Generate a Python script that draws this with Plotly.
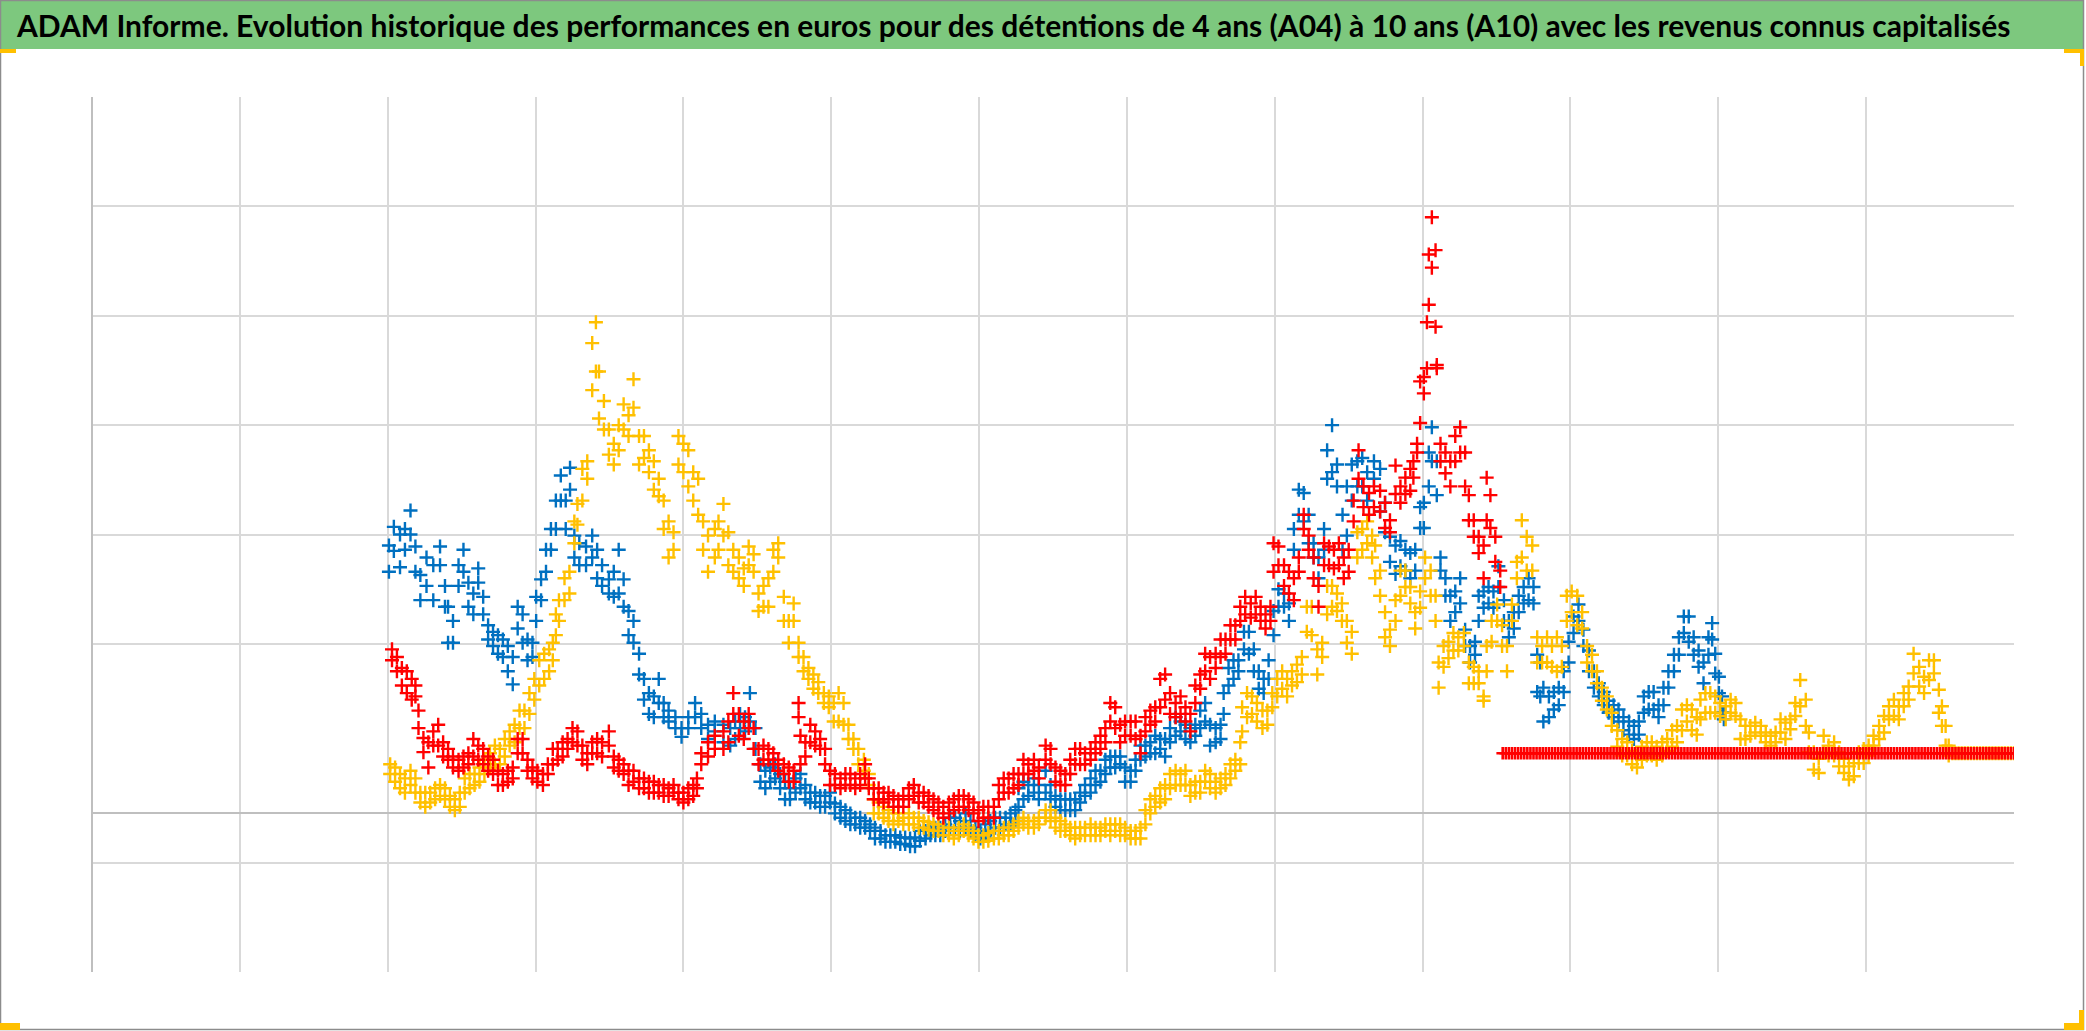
import plotly.graph_objects as go

# ---------------- data (x = month index on the time axis, y = performance in %) ----------------
# each observation: (month, low edge of the point cloud, high edge of the point cloud)
blue_obs = [
    (48.2, 221, 245), (49.0, 240, 262), (50.0, 225, 255), (50.8, 241, 260), (51.7, 255, 277),
    (52.5, 221, 244), (53.3, 195, 218), (54.3, 208, 234), (55.4, 195, 227), (56.5, 227, 244),
    (57.3, 189, 208), (57.8, 156, 189), (58.6, 156, 176), (59.5, 208, 227), (60.3, 221, 241),
    (61.1, 189, 211), (61.9, 182, 201), (62.7, 211, 224), (63.5, 182, 198), (64.3, 159, 172),
    (65.1, 153, 166), (65.9, 146, 163), (66.7, 143, 159), (67.5, 130, 153), (68.3, 118, 143),
    (69.1, 169, 189), (69.9, 156, 182), (70.7, 140, 159), (71.5, 143, 156), (72.1, 176, 198),
    (72.9, 195, 214), (73.7, 221, 241), (74.5, 241, 260), (75.3, 260, 286), (76.1, 286, 309),
    (76.9, 260, 286), (77.6, 296, 316), (78.3, 234, 254), (79.1, 227, 247), (80.2, 227, 244),
    (81.2, 234, 254), (82.0, 215, 241), (82.8, 208, 227), (83.9, 201, 214), (84.7, 198, 221),
    (85.5, 201, 241), (86.3, 189, 214), (87.1, 163, 185), (87.9, 156, 176), (88.8, 127, 146),
    (89.6, 104, 123), (90.4, 91, 110), (91.2, 88, 107), (92.0, 101, 123), (92.8, 88, 101),
    (93.6, 84, 94), (94.7, 78, 88), (95.7, 70, 78), (96.8, 78, 88), (97.9, 88, 101),
    (98.9, 78, 91), (100.0, 68, 81), (101.1, 75, 84), (102.5, 65, 81), (103.6, 62, 78),
    (104.4, 68, 84), (105.2, 78, 91), (106.0, 75, 88), (106.8, 84, 110), (107.7, 59, 78),
    (108.5, 29, 45), (109.3, 23, 39), (110.1, 29, 42), (110.9, 32, 45), (111.7, 23, 36),
    (112.5, 13, 29), (113.3, 13, 23), (114.2, 19, 32), (115.0, 23, 36), (115.8, 13, 26),
    (116.6, 10, 19), (117.4, 10, 19), (118.2, 6, 16), (119.0, 6, 16), (119.8, 10, 19),
    (120.6, 0, 9), (121.5, -4, 6), (122.3, -7, 3), (123.1, -10, 0), (123.9, -10, -4),
    (124.7, -13, -4), (125.5, -13, -7), (126.3, -16, -10), (127.1, -23, -13), (128.0, -23, -16),
    (128.8, -26, -20), (129.6, -26, -20), (130.4, -26, -20), (131.2, -28, -22), (132.0, -28, -22),
    (132.8, -30, -23), (133.6, -30, -22), (134.4, -25, -16), (135.3, -23, -16), (136.1, -20, -13),
    (136.9, -20, -13), (137.7, -20, -13), (138.5, -16, -10), (139.3, -13, -4), (140.1, -13, -4),
    (140.9, -16, -7), (141.8, -13, 0), (142.6, -16, -7), (143.4, -20, -13), (144.2, -23, -16),
    (145.0, -20, -10), (145.8, -16, -7), (146.6, -13, -4), (147.4, -13, -4), (148.3, -10, -4),
    (149.1, -10, 0), (149.9, -7, 3), (150.4, 6, 23), (151.2, 13, 29), (152.0, 16, 26),
    (152.9, 19, 32), (153.7, 13, 26), (154.8, 19, 39), (155.6, 13, 26), (156.4, 6, 16),
    (157.2, 3, 13), (158.0, 3, 13), (158.8, 3, 13), (159.6, 3, 13), (160.4, 10, 19),
    (161.2, 16, 26), (162.1, 19, 32), (162.9, 26, 39), (163.7, 29, 39), (164.5, 36, 49),
    (165.3, 42, 52), (166.1, 42, 52), (166.9, 45, 52), (167.7, 29, 42), (168.6, 29, 39),
    (169.4, 39, 49), (170.2, 49, 62), (171.0, 52, 62), (171.8, 55, 65), (172.6, 55, 71),
    (173.4, 59, 68), (174.2, 52, 68), (175.0, 65, 78), (175.9, 71, 88), (176.7, 75, 84),
    (177.5, 68, 81), (178.3, 65, 78), (179.1, 71, 81), (179.9, 78, 94), (180.7, 84, 101),
    (181.5, 62, 81), (182.4, 65, 78), (183.2, 68, 81), (183.7, 91, 110), (184.5, 117, 133),
    (185.3, 123, 140), (186.1, 130, 140), (187.0, 150, 166), (187.8, 146, 166), (188.6, 130, 150),
    (189.4, 114, 130), (190.2, 110, 123), (191.0, 123, 140), (191.8, 163, 185), (192.6, 189, 205),
    (193.5, 189, 201), (194.3, 176, 192), (195.1, 241, 260), (195.9, 273, 296), (196.7, 267, 293),
    (197.5, 247, 273), (198.3, 234, 247), (199.1, 215, 234), (200.0, 241, 260), (200.5, 306, 332),
    (201.3, 312, 355), (202.1, 299, 319), (203.0, 241, 273), (203.7, 254, 299), (204.5, 286, 319),
    (205.4, 299, 322), (206.2, 299, 325), (207.0, 286, 312), (208.1, 306, 322), (209.1, 276, 315),
    (209.9, 257, 284), (210.7, 230, 253), (211.6, 219, 245), (212.4, 226, 249), (213.2, 222, 241),
    (214.0, 215, 238), (214.8, 222, 241), (215.6, 261, 280), (216.2, 261, 284), (217.0, 299, 330),
    (217.5, 322, 353), (218.3, 291, 322), (218.9, 222, 234), (219.7, 199, 215), (220.5, 176, 199),
    (221.3, 184, 203), (222.1, 192, 215), (222.9, 153, 168), (223.7, 138, 153), (224.5, 145, 157),
    (225.1, 176, 199), (225.9, 188, 203), (226.7, 192, 207), (227.5, 188, 203), (228.3, 207, 226),
    (229.2, 176, 195), (230.0, 161, 176), (230.8, 169, 184), (231.6, 184, 199), (232.4, 192, 207),
    (233.2, 195, 215), (234.0, 192, 207), (234.6, 111, 145), (235.1, 107, 138), (235.6, 84, 115),
    (236.5, 88, 107), (237.3, 95, 111), (238.1, 99, 115), (238.9, 111, 130), (239.7, 138, 157),
    (240.5, 165, 180), (241.3, 176, 191), (242.1, 153, 168), (243.0, 130, 149), (243.8, 115, 130),
    (244.6, 107, 119), (245.4, 99, 111), (246.2, 92, 103), (247.0, 88, 99), (247.8, 84, 95),
    (248.6, 76, 88), (249.5, 72, 84), (250.3, 68, 80), (251.1, 72, 84), (251.9, 92, 107),
    (252.7, 95, 111), (253.5, 95, 111), (254.3, 88, 99), (255.1, 99, 115), (255.9, 115, 130),
    (256.8, 130, 145), (257.6, 145, 161), (258.4, 165, 180), (259.2, 157, 180), (260.0, 145, 161),
    (260.8, 134, 149), (261.6, 119, 138), (262.4, 145, 161), (263.0, 159, 174), (263.5, 128, 146),
    (264.1, 110, 125), (264.6, 92, 107), (264.9, 86, 92),
]

red_obs = [
    (48.7, 140, 150), (49.5, 130, 143), (50.3, 117, 133), (51.1, 110, 130), (51.9, 104, 123),
    (52.5, 107, 117), (53.0, 78, 94), (53.8, 56, 69), (54.6, 42, 65), (55.4, 62, 75),
    (56.2, 62, 81), (57.0, 52, 65), (57.8, 49, 59), (58.6, 42, 52), (59.5, 39, 49),
    (60.3, 42, 52), (61.1, 45, 55), (61.9, 52, 68), (62.7, 49, 62), (63.5, 45, 59),
    (64.3, 39, 52), (65.1, 36, 49), (65.9, 26, 39), (66.7, 26, 36), (67.5, 29, 39),
    (68.3, 32, 42), (69.1, 55, 68), (69.9, 55, 68), (70.7, 39, 49), (71.5, 32, 42),
    (72.3, 29, 39), (73.2, 26, 36), (74.0, 36, 45), (74.8, 45, 59), (75.6, 49, 59),
    (76.4, 52, 65), (77.2, 59, 68), (78.0, 65, 78), (78.8, 62, 75), (79.6, 49, 62),
    (80.4, 45, 55), (81.2, 55, 65), (82.0, 55, 68), (82.8, 52, 65), (83.9, 62, 75),
    (84.7, 42, 52), (85.5, 39, 49), (86.3, 36, 45), (87.1, 26, 39), (87.9, 29, 39),
    (88.8, 23, 32), (89.6, 23, 32), (90.4, 19, 29), (91.2, 19, 29), (92.0, 19, 26),
    (92.8, 16, 26), (93.6, 16, 23), (94.4, 19, 26), (95.2, 13, 19), (96.0, 10, 19),
    (96.8, 13, 23), (97.6, 16, 26), (98.2, 23, 32), (98.9, 45, 55), (100.0, 52, 65),
    (101.1, 59, 71), (102.5, 59, 75), (103.3, 65, 84), (104.1, 91, 110), (105.0, 71, 91),
    (105.8, 68, 84), (106.6, 78, 91), (107.4, 59, 78), (108.2, 45, 59), (109.0, 49, 62),
    (109.8, 49, 59), (110.6, 45, 55), (111.4, 39, 49), (112.3, 36, 45), (113.1, 29, 42),
    (113.9, 29, 39), (114.7, 88, 101), (115.0, 45, 71), (115.8, 52, 65), (116.6, 65, 81),
    (117.4, 62, 75), (118.2, 59, 68), (119.0, 45, 59), (119.8, 26, 39), (120.6, 26, 36),
    (121.5, 23, 32), (122.3, 26, 36), (123.1, 26, 36), (123.9, 23, 32), (124.7, 26, 36),
    (125.5, 32, 45), (126.1, 23, 32), (126.9, 13, 23), (127.7, 13, 23), (128.5, 10, 19),
    (129.3, 13, 19), (130.1, 6, 16), (130.9, 6, 13), (131.7, 6, 16), (132.6, 13, 23),
    (133.4, 16, 26), (134.2, 10, 19), (135.0, 10, 19), (135.8, 6, 16), (136.6, 3, 13),
    (137.4, 0, 10), (138.2, -4, 6), (139.1, 0, 10), (139.9, 3, 13), (140.7, 6, 16),
    (141.5, 6, 16), (142.3, 3, 13), (143.1, 0, 10), (143.9, -7, 3), (144.7, -4, 6),
    (145.5, -4, 6), (146.4, -4, 6), (147.2, 13, 26), (148.0, 19, 32), (148.8, 19, 32),
    (149.6, 23, 36), (150.4, 26, 36), (151.2, 36, 49), (152.0, 36, 45), (152.9, 39, 49),
    (153.7, 32, 42), (154.8, 49, 62), (155.6, 45, 59), (156.4, 29, 42), (157.2, 26, 39),
    (158.0, 26, 36), (158.8, 36, 49), (159.6, 45, 59), (160.4, 45, 59), (161.2, 45, 55),
    (162.1, 49, 59), (162.9, 55, 65), (163.7, 59, 71), (164.5, 65, 78), (165.3, 84, 101),
    (166.1, 78, 97), (166.9, 65, 81), (167.7, 71, 84), (168.6, 71, 84), (169.4, 68, 84),
    (170.2, 55, 71), (171.0, 75, 88), (171.8, 81, 94), (172.6, 84, 97), (173.4, 97, 123),
    (174.2, 104, 127), (175.0, 91, 110), (175.9, 88, 101), (176.7, 91, 107), (177.5, 84, 97),
    (178.3, 75, 91), (179.1, 101, 117), (179.9, 114, 127), (180.7, 130, 146), (181.5, 123, 143),
    (182.4, 133, 146), (183.2, 143, 159), (184.0, 146, 159), (184.8, 159, 172), (185.6, 159, 172),
    (186.4, 176, 189), (187.2, 182, 198), (188.1, 179, 192), (188.9, 182, 198), (189.7, 176, 189),
    (190.5, 169, 182), (191.3, 176, 189), (191.8, 221, 247), (192.6, 227, 244), (193.5, 208, 227),
    (194.3, 201, 221), (195.1, 195, 215), (195.9, 221, 234), (196.7, 260, 273), (197.5, 241, 254),
    (198.3, 215, 234), (199.1, 189, 208), (200.0, 227, 247), (200.8, 227, 244), (201.6, 224, 241),
    (202.4, 227, 247), (203.2, 215, 234), (204.0, 221, 241), (204.8, 267, 286), (205.6, 306, 332),
    (206.4, 280, 299), (207.3, 273, 293), (208.1, 280, 299), (209.1, 276, 295), (209.9, 261, 284),
    (210.7, 257, 268), (211.6, 292, 318), (212.4, 284, 299), (213.2, 292, 307), (214.0, 295, 315),
    (214.5, 307, 322), (215.1, 330, 338), (215.6, 357, 395), (216.2, 384, 399), (216.7, 407, 449),
    (217.0, 465, 511), (217.5, 499, 545), (218.1, 445, 515), (218.3, 407, 410), (218.9, 322, 338),
    (219.7, 311, 330), (220.5, 299, 322), (221.3, 322, 345), (222.1, 330, 353), (222.9, 299, 330),
    (223.5, 268, 291), (224.3, 253, 268), (225.1, 238, 253), (225.9, 215, 245), (226.4, 268, 307),
    (227.0, 261, 291), (227.8, 230, 253), (228.6, 207, 222),
]
# after month 229 the A10 series stays on a flat level
RED_TAIL_START, TAIL_END = 229, 312
RED_TAIL_LEVEL = 55

yellow_obs = [
    (48.4, 36, 45), (49.2, 29, 42), (50.0, 23, 36), (50.8, 19, 32), (51.7, 26, 39),
    (52.5, 19, 32), (53.3, 10, 19), (54.1, 6, 19), (54.9, 10, 19), (55.7, 13, 23),
    (56.5, 16, 26), (57.3, 13, 23), (58.1, 6, 16), (58.9, 3, 13), (59.7, 6, 19),
    (60.5, 19, 32), (61.3, 23, 36), (62.1, 26, 36), (62.9, 29, 42), (63.7, 36, 49),
    (64.6, 42, 55), (65.4, 45, 62), (66.2, 45, 59), (67.0, 52, 68), (67.8, 62, 75),
    (68.6, 65, 81), (69.4, 78, 94), (70.2, 78, 94), (71.0, 91, 110), (71.8, 104, 123),
    (72.6, 117, 140), (73.4, 123, 146), (74.2, 130, 150), (74.8, 140, 156), (75.3, 163, 182),
    (75.8, 176, 195), (76.7, 195, 215), (77.5, 201, 221), (78.3, 247, 267), (78.8, 264, 283),
    (79.6, 286, 315), (80.4, 306, 322), (81.2, 387, 430), (81.8, 404, 449), (82.3, 361, 404),
    (83.1, 351, 377), (83.9, 328, 351), (84.7, 319, 338), (85.5, 332, 355), (86.3, 351, 374),
    (87.1, 345, 364), (87.9, 371, 397), (88.8, 319, 345), (89.6, 325, 345), (90.4, 312, 332),
    (91.2, 296, 322), (92.0, 290, 306), (92.8, 260, 286), (93.6, 234, 267), (94.4, 241, 257),
    (95.2, 319, 345), (96.0, 312, 338), (96.8, 299, 332), (97.6, 286, 312), (98.4, 273, 306),
    (99.2, 241, 267), (100.0, 221, 254), (101.1, 234, 260), (101.7, 241, 267), (102.5, 254, 283),
    (103.3, 227, 257), (104.1, 221, 241), (105.0, 215, 234), (105.8, 208, 224), (106.6, 227, 244),
    (107.4, 221, 237), (108.2, 185, 201), (109.0, 189, 208), (109.8, 189, 215), (110.6, 221, 241),
    (111.4, 234, 247), (112.3, 176, 198), (113.1, 156, 176), (113.9, 176, 192), (114.7, 143, 156),
    (115.5, 130, 143), (116.3, 123, 133), (117.1, 114, 127), (117.9, 110, 120), (118.8, 101, 110),
    (119.6, 97, 107), (120.4, 84, 101), (121.2, 84, 110), (122.0, 81, 101), (122.8, 68, 81),
    (123.6, 59, 68), (124.4, 45, 59), (125.3, 39, 49), (126.1, 26, 36), (126.9, 0, 13),
    (127.7, 0, 10), (128.5, -4, 6), (129.3, -7, 3), (130.1, -10, 0), (130.9, -7, 0),
    (131.7, -10, -4), (132.6, -10, 0), (133.4, -10, -4), (134.2, -13, -4), (135.0, -13, -7),
    (135.8, -15, -8), (136.6, -16, -10), (137.4, -16, -10), (138.2, -20, -13), (139.1, -20, -13),
    (139.9, -23, -16), (140.7, -20, -13), (141.5, -16, -10), (142.3, -20, -13), (143.1, -23, -16),
    (143.9, -26, -20), (144.7, -26, -20), (145.5, -25, -18), (146.4, -23, -16), (147.2, -23, -16),
    (148.0, -20, -13), (148.8, -20, -13), (149.6, -16, -10), (150.4, -13, -7), (151.2, -10, -4),
    (152.0, -13, -7), (152.9, -13, -7), (153.7, -10, -4), (154.8, -4, 3), (155.6, -7, 3),
    (156.4, -13, -4), (157.2, -16, -7), (158.0, -16, -10), (158.8, -20, -13), (159.6, -23, -13),
    (160.4, -20, -13), (161.2, -20, -13), (162.1, -20, -10), (162.9, -20, -13), (163.7, -20, -13),
    (164.5, -16, -10), (165.3, -20, -10), (166.1, -16, -10), (166.9, -20, -10), (167.7, -20, -13),
    (168.6, -23, -16), (169.4, -23, -16), (170.2, -23, -13), (171.0, -10, 3), (171.8, 0, 13),
    (172.6, 6, 16), (173.4, 10, 23), (174.2, 13, 26), (175.0, 23, 36), (175.9, 26, 39),
    (176.7, 26, 36), (177.5, 26, 39), (178.3, 16, 26), (179.1, 19, 29), (179.9, 19, 29),
    (180.7, 29, 39), (181.5, 23, 36), (182.4, 19, 29), (183.2, 23, 32), (184.0, 26, 36),
    (184.8, 32, 45), (185.6, 39, 49), (186.4, 45, 65), (186.7, 75, 97), (187.5, 88, 110),
    (188.3, 91, 107), (189.1, 84, 101), (190.0, 78, 94), (190.8, 81, 94), (191.6, 97, 110),
    (192.4, 107, 123), (193.2, 114, 130), (194.0, 107, 123), (194.8, 117, 130), (195.6, 120, 136),
    (196.4, 127, 143), (197.2, 166, 189), (198.0, 163, 189), (198.9, 127, 150), (199.7, 143, 156),
    (200.5, 182, 208), (201.3, 189, 208), (202.1, 185, 201), (202.9, 176, 192), (203.7, 156, 176),
    (204.5, 146, 166), (205.4, 234, 257), (206.2, 241, 260), (207.0, 247, 267), (207.8, 234, 254),
    (208.3, 215, 245), (209.1, 199, 222), (209.9, 161, 184), (210.7, 153, 168), (211.6, 176, 195),
    (212.4, 199, 222), (213.2, 207, 222), (214.0, 192, 207), (214.8, 169, 184), (215.6, 188, 203),
    (216.4, 215, 234), (217.3, 199, 222), (218.1, 176, 199), (218.6, 115, 138), (219.4, 134, 153),
    (220.2, 142, 157), (221.0, 149, 165), (221.8, 149, 161), (222.7, 153, 165), (223.5, 119, 138),
    (224.3, 119, 134), (225.1, 119, 130), (225.9, 103, 107), (226.4, 130, 153), (227.2, 157, 176),
    (228.1, 176, 191), (228.9, 153, 172), (229.7, 130, 153), (230.5, 176, 191), (231.3, 215, 230),
    (232.1, 234, 268), (232.9, 222, 253), (233.8, 222, 245), (234.6, 138, 161), (235.4, 138, 153),
    (236.2, 138, 161), (237.0, 134, 153), (237.8, 130, 161), (238.6, 134, 153), (239.4, 176, 199),
    (240.2, 184, 203), (241.1, 172, 199), (241.9, 169, 184), (242.7, 138, 153), (243.5, 130, 145),
    (244.3, 119, 130), (245.1, 103, 115), (245.9, 95, 107), (246.7, 80, 92), (247.6, 61, 76),
    (248.4, 53, 68), (249.2, 53, 65), (250.0, 45, 57), (250.8, 42, 53), (251.6, 49, 61),
    (252.4, 53, 65), (253.2, 53, 65), (254.0, 49, 61), (254.9, 53, 65), (255.7, 57, 68),
    (256.5, 61, 76), (257.3, 65, 80), (258.1, 76, 95), (258.9, 84, 99), (259.7, 76, 95),
    (260.5, 72, 88), (261.1, 86, 104), (261.9, 92, 110), (262.7, 92, 110), (263.5, 92, 107),
    (264.3, 89, 101), (265.2, 86, 98), (266.0, 92, 104), (266.8, 89, 101), (267.6, 68, 86),
    (268.4, 68, 80), (269.2, 71, 80), (270.0, 74, 83), (270.9, 71, 80), (271.7, 65, 74),
    (272.5, 62, 71), (273.3, 65, 74), (274.1, 74, 86), (274.9, 68, 83), (275.7, 77, 86),
    (276.5, 89, 101), (277.3, 98, 122), (278.2, 80, 104), (278.7, 56, 74), (279.5, 40, 56),
    (280.3, 37, 50), (281.1, 56, 71), (281.9, 53, 62), (282.8, 53, 65), (283.6, 43, 56),
    (284.4, 37, 50), (285.2, 31, 43), (286.0, 34, 46), (286.8, 46, 56), (287.6, 46, 59),
    (288.4, 53, 62), (289.2, 62, 71), (290.1, 68, 80), (290.9, 74, 89), (291.7, 86, 98),
    (292.5, 89, 104), (293.3, 86, 98), (294.1, 98, 110), (294.9, 104, 116), (295.7, 128, 146),
    (296.6, 116, 134), (297.4, 110, 125), (298.2, 122, 140), (299.0, 128, 140), (299.8, 92, 113),
    (300.3, 80, 98), (300.9, 62, 80), (301.4, 53, 62),
]
YELLOW_TAIL_START = 302
YELLOW_TAIL_LEVEL = 55

# axis grid (month ticks every 24 months, performance grid every 100 points)
x_grid = [0, 24, 48, 72, 96, 120, 144, 168, 192, 216, 240, 264, 288, 312]
y_grid = [-145, -45, 155, 255, 355, 455, 555, 655]
x_range = [0, 312]
y_range = [-145, 655]

TITLE = ("ADAM Informe. Evolution historique des performances en euros pour des détentions "
         "de 4 ans (A04) à 10 ans (A10) avec les revenus connus capitalisés")

BLUE, RED, YELLOW = "#0070C0", "#FF0000", "#FFC000"

# ---------------- figure ----------------
W, H = 2086, 1031
ML, MR, MT, MB = 92, 72, 97, 59
PW, PH = W - ML - MR, H - MT - MB


def px(xp):
    return (xp - ML) / PW


def py(yp):
    return (H - MB - yp) / PH


def cloud(obs):
    xs = [o[0] for o in obs] + [o[0] for o in obs]
    ys = [o[1] for o in obs] + [o[2] for o in obs]
    return xs, ys


def flat(start, end, level):
    # half-month time index for the flat segment, all at the constant observed level
    ms = [start + 0.5 * i for i in range(int((end - start) * 2) + 1)]
    return ms, [level for _ in ms]


def marker(c, size=10, width=2.4):
    return dict(symbol="cross-thin", size=size, color=c, line=dict(color=c, width=width))


fig = go.Figure()
bx, by = cloud(blue_obs)
fig.add_trace(go.Scatter(x=bx, y=by, mode="markers", marker=marker(BLUE), name="A07"))
yx, yy = cloud(yellow_obs)
tx, ty = flat(YELLOW_TAIL_START, TAIL_END, YELLOW_TAIL_LEVEL)
fig.add_trace(go.Scatter(x=yx + tx, y=yy + ty, mode="markers", marker=marker(YELLOW), name="A04"))
rx, ry = cloud(red_obs)
fig.add_trace(go.Scatter(x=rx, y=ry, mode="markers", marker=marker(RED), name="A10"))
tx, ty = flat(RED_TAIL_START, TAIL_END, RED_TAIL_LEVEL)
fig.add_trace(go.Scatter(x=tx, y=ty, mode="markers", marker=marker(RED, 9, 2.6), name="A10 (suite)"))

shapes = [
    # green title banner
    dict(type="rect", xref="paper", yref="paper", x0=px(0), x1=px(2084), y0=py(49), y1=py(0),
         fillcolor="#7DC87E", line=dict(width=0), layer="below"),
    # outer chart border
    dict(type="rect", xref="paper", yref="paper", x0=px(0.5), x1=px(2083.5), y0=py(1029.5), y1=py(0.5),
         line=dict(color="#8C8C8C", width=1.5)),
]
# selection handles (orange corner marks)
ORANGE = "#FFC000"
for (a, b, c, d) in [(0, 49, 16, 53), (2064, 49, 2084, 53), (2080, 49, 2084, 66),
                     (0, 1023, 20, 1030), (2064, 1023, 2084, 1030), (2079, 1010, 2084, 1030)]:
    shapes.append(dict(type="rect", xref="paper", yref="paper", x0=px(a), x1=px(c), y0=py(d), y1=py(b),
                       fillcolor=ORANGE, line=dict(width=0)))

fig.update_layout(
    width=W, height=H, autosize=False,
    margin=dict(l=ML, r=MR, t=MT, b=MB, pad=0),
    paper_bgcolor="white", plot_bgcolor="white",
    shapes=shapes,
    annotations=[dict(
        text="<b>" + TITLE + "</b>", xref="paper", yref="paper", x=px(1013), y=py(25),
        xanchor="center", yanchor="middle", showarrow=False,
        font=dict(family="Lato, Roboto, sans-serif", size=30, color="black"),
    )],
    xaxis=dict(range=x_range, tickmode="array", tickvals=x_grid, showticklabels=False, ticks="",
               showgrid=True, gridcolor="#D9D9D9", gridwidth=2, zeroline=True, zerolinecolor="#BFBFBF",
               zerolinewidth=2, showline=False, fixedrange=True),
    yaxis=dict(range=y_range, tickmode="array", tickvals=y_grid, showticklabels=False, ticks="",
               showgrid=True, gridcolor="#D9D9D9", gridwidth=2, zeroline=True, zerolinecolor="#BFBFBF",
               zerolinewidth=2, showline=False, fixedrange=True),
    showlegend=False,
)

fig.write_html("out.html", config={"displayModeBar": False},
               post_script="document.body.style.margin='0';document.body.style.overflow='hidden';")
